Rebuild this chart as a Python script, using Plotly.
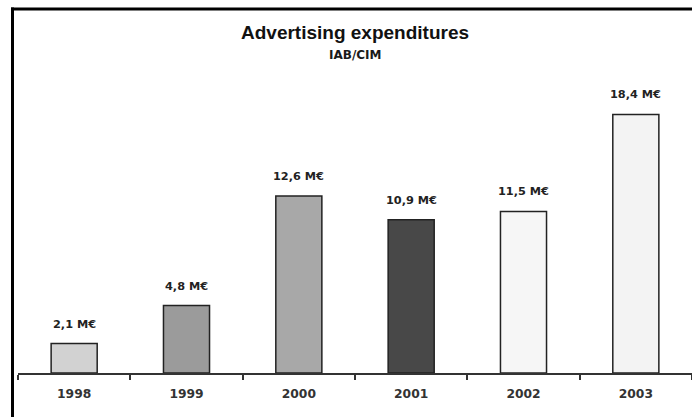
import plotly.graph_objects as go

# Advertising expenditures per year (millions of euros)
years = ["1998", "1999", "2000", "2001", "2002", "2003"]
spend = [2.1, 4.8, 12.6, 10.9, 11.5, 18.4]
bar_colors = ["#d2d2d2", "#9b9b9b", "#a8a8a8", "#484848", "#f6f6f6", "#f3f3f3"]

title_text = "Advertising expenditures"
subtitle_text = "IAB/CIM"

W, H = 692, 417
ML, MR, MT, MB = 18, 0, 92, 44
plot_w = W - ML - MR
plot_h = H - MT - MB


def px_x(px):
    return (px - ML) / plot_w


def px_y(py):
    return (H - MB - py) / plot_h


fig = go.Figure(
    go.Bar(
        x=years,
        y=spend,
        width=0.41,
        marker=dict(color=bar_colors, line=dict(color="#222222", width=1.5)),
        hoverinfo="skip",
    )
)

# value labels above each bar (x given as category index)
for i, v in enumerate(spend):
    fig.add_annotation(
        x=i, y=v, xref="x", yref="y", text=f"{v:.1f} M€".replace(".", ","),
        showarrow=False, yanchor="bottom", yshift=11,
        font=dict(family="DejaVu Sans", size=11.3, color="#222222", weight="bold"),
    )

fig.add_annotation(
    xref="paper", yref="paper", x=0.5, y=px_y(33), yanchor="middle",
    text=title_text, showarrow=False,
    font=dict(family="Liberation Sans", size=19, color="#111111", weight="bold"),
)
fig.add_annotation(
    xref="paper", yref="paper", x=0.5, y=px_y(55), yanchor="middle",
    text=subtitle_text, showarrow=False,
    font=dict(family="DejaVu Sans", size=12, color="#1a1a1a", weight="bold"),
)

# heavy frame lines along the top and left edges
fig.add_shape(type="line", xref="paper", yref="paper",
              x0=px_x(11), x1=px_x(W + 5), y0=px_y(9), y1=px_y(9),
              line=dict(color="black", width=3))
fig.add_shape(type="line", xref="paper", yref="paper",
              x0=px_x(12.5), x1=px_x(12.5), y0=px_y(7.5), y1=px_y(H + 5),
              line=dict(color="black", width=3))

fig.update_layout(
    width=W, height=H,
    margin=dict(l=ML, r=MR, t=MT, b=MB),
    paper_bgcolor="white", plot_bgcolor="white",
    showlegend=False,
    xaxis=dict(
        type="category",
        categoryorder="array", categoryarray=years,
        range=[-0.5, len(years) - 0.5],
        showline=True, linecolor="#333333", linewidth=1.5,
        ticks="outside", tickson="boundaries", ticklen=5, tickcolor="#333333", tickwidth=1.5,
        showgrid=False, tickangle=0,
        tickfont=dict(family="DejaVu Sans", size=12.3, color="#333333", weight="bold"),
        ticklabelstandoff=8,
    ),
    yaxis=dict(range=[0, 20], visible=False, showgrid=False, zeroline=False),
)

fig.write_html("out.html")
